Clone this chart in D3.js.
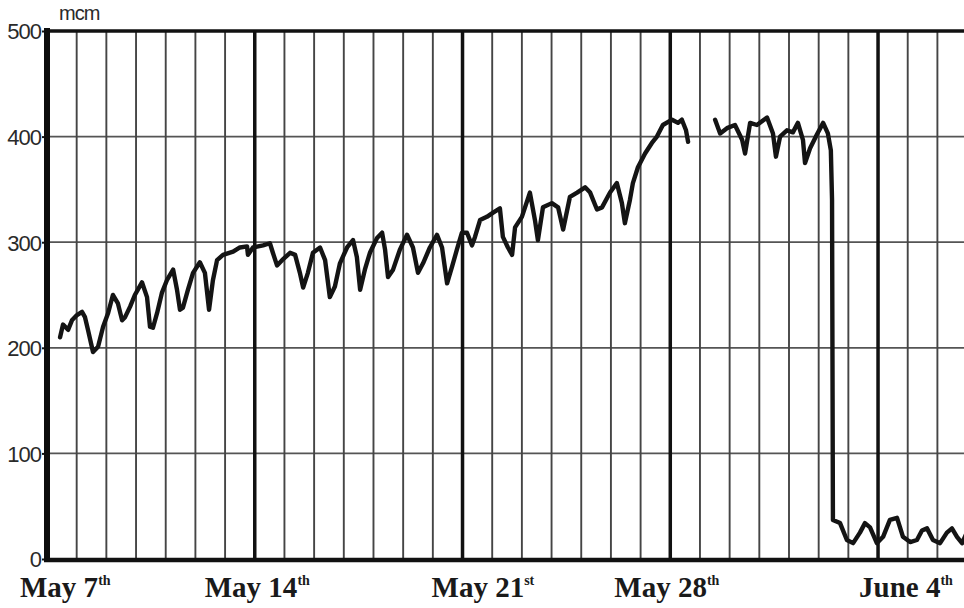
<!DOCTYPE html>
<html>
<head>
<meta charset="utf-8">
<script src="https://cdn.jsdelivr.net/npm/d3@7"></script>
<style>
  html, body { margin: 0; padding: 0; background: #fff; }
  svg { display: block; }
</style>
</head>
<body>
<svg id="chart" width="964" height="608"></svg>
<script>
// ---- data (days after May 7, 00:00; flow in mcm) ----
const seriesDays = [
  0.44,0.54,0.71,0.84,1.01,1.18,1.28,1.38,1.55,1.72,1.89,2.06,2.22,2.39,2.53,2.63,2.80,2.96,3.20,3.37,
  3.47,3.57,3.71,3.87,4.04,4.25,4.38,4.48,4.58,4.75,4.92,5.15,5.32,5.46,5.59,5.73,5.93,6.27,6.50,6.74,
  6.77,6.94,7.28,7.51,7.61,7.75,7.92,8.19,8.36,8.52,8.63,8.79,8.96,9.20,9.37,9.53,9.70,9.87,10.11,10.31,
  10.44,10.55,10.71,10.88,11.12,11.29,11.39,11.49,11.66,11.89,12.13,12.33,12.50,12.67,12.90,13.14,13.31,13.48,13.65,13.81,
  13.98,14.15,14.32,14.42,14.59,14.82,15.03,15.26,15.36,15.53,15.67,15.77,16.00,16.27,16.44,16.54,16.71,17.01,17.22,17.39,
  17.62,17.86,18.13,18.30,18.53,18.70,18.97,19.20,19.37,19.47,19.64,19.74,19.91,20.15,20.38,20.55,20.75,21.06,21.26,21.39,
  21.53,21.60,
  22.05,
  22.51,22.68,22.91,23.18,23.42,23.52,23.69,23.92,24.26,24.46,24.56,24.70,24.93,25.13,25.30,25.47,25.54,25.71,25.94,26.15,
  26.31,26.41,26.45,26.48,26.72,26.95,27.16,27.39,27.56,27.73,27.96,28.17,28.40,28.64,28.84,29.08,29.31,29.48,29.65,29.85,
  30.09,30.32,30.49,30.66,30.83,30.96
];
const seriesFlow = [
  210,222,217,226,231,234,229,217,196,201,220,233,250,242,226,229,239,250,262,248,
  220,219,233,252,264,274,255,236,238,255,271,281,271,236,264,283,288,291,295,296,
  288,295,297,299,290,278,283,290,288,271,257,271,290,295,283,248,258,280,295,302,
  286,255,274,290,304,309,293,267,274,293,307,295,271,280,295,307,295,261,277,293,
  309,309,297,305,321,324,328,332,305,295,288,314,324,347,321,302,333,337,333,312,
  343,347,352,347,331,333,347,356,337,318,340,356,371,384,394,400,411,416,413,416,
  406,395,
  null,
  416,403,408,411,397,384,413,411,418,403,381,400,406,404,413,397,375,389,402,413,
  403,387,340,37,34,18,15,25,34,30,15,21,37,39,21,16,18,27,29,18,
  15,25,29,21,15,23
];

// axis / label content
const yTickValues = [0, 100, 200, 300, 400, 500];
const weekLabels = ["May 7", "May 14", "May 21", "May 28", "June 4"];
const weekSuffix = ["th", "th", "st", "th", "th"];
const weekDays = [0, 7, 14, 21, 28];
const unitLabel = "mcm";

// ---- layout ----
const W = 964, H = 608;
const plotLeft = 47, plotTop = 31, plotBottom = 559;
const pxPerDay = 29.68;
const dayMax = 31;
const labelDx = [-27, -50, -31, -56, -19];

const svg = d3.select("#chart");
svg.append("rect").attr("width", W).attr("height", H).attr("fill", "#fff");

const x = d3.scaleLinear().domain([0, dayMax]).range([plotLeft, plotLeft + pxPerDay * dayMax]);
const y = d3.scaleLinear().domain([0, 500]).range([plotBottom, plotTop]);

// horizontal grid
svg.append("g").selectAll("line")
  .data(yTickValues.filter(v => v > 0 && v < 500))
  .join("line")
  .attr("x1", plotLeft).attr("x2", W)
  .attr("y1", d => y(d)).attr("y2", d => y(d))
  .attr("stroke", "#555").attr("stroke-width", 1.7);

// vertical day grid
const allDays = d3.range(1, dayMax + 1);
svg.append("g").selectAll("line")
  .data(allDays)
  .join("line")
  .attr("x1", d => x(d)).attr("x2", d => x(d))
  .attr("y1", plotTop).attr("y2", plotBottom)
  .attr("stroke", d => d % 7 === 0 ? "#111" : "#454545")
  .attr("stroke-width", d => d % 7 === 0 ? 3.5 : 1.9);

// top border
svg.append("line")
  .attr("x1", plotLeft).attr("x2", W)
  .attr("y1", plotTop).attr("y2", plotTop)
  .attr("stroke", "#111").attr("stroke-width", 3.5);

// data line
const pts = seriesDays.map((d, i) => ({ d, v: seriesFlow[i] }));
const line = d3.line()
  .defined(p => p.v !== null)
  .x(p => x(p.d)).y(p => y(p.v))
  .curve(d3.curveLinear);
svg.append("path")
  .datum(pts)
  .attr("d", line)
  .attr("fill", "none")
  .attr("stroke", "#141414")
  .attr("stroke-width", 4.4)
  .attr("stroke-linejoin", "round")
  .attr("stroke-linecap", "round");

// bottom axis line
svg.append("line")
  .attr("x1", plotLeft - 3).attr("x2", W)
  .attr("y1", plotBottom + 1).attr("y2", plotBottom + 1)
  .attr("stroke", "#111").attr("stroke-width", 4.5);

// left axis
const yAxis = d3.axisLeft(y).tickValues(yTickValues).tickSize(4).tickPadding(1);
const gy = svg.append("g").attr("transform", `translate(${plotLeft - 1},0)`).call(yAxis);
gy.select(".domain").remove();
gy.selectAll(".tick line").attr("stroke", "#111").attr("stroke-width", 2);
gy.selectAll(".tick text")
  .attr("font-family", "'Liberation Sans', Arial, sans-serif")
  .attr("font-size", 22)
  .attr("fill", "#2a2a2a")
  .attr("letter-spacing", -1)
  .attr("dy", "0.36em");
svg.append("line")
  .attr("x1", plotLeft).attr("x2", plotLeft)
  .attr("y1", plotTop - 3).attr("y2", plotBottom + 3)
  .attr("stroke", "#0d0d0d").attr("stroke-width", 6);

// unit label
svg.append("text")
  .attr("x", plotLeft + 12).attr("y", plotTop - 11)
  .attr("font-family", "'Liberation Sans', Arial, sans-serif")
  .attr("font-size", 20)
  .attr("letter-spacing", -1)
  .attr("fill", "#2a2a2a")
  .text(unitLabel);

// x week labels
const xl = svg.append("g");
weekLabels.forEach((lab, i) => {
  const t = xl.append("text")
    .attr("x", x(weekDays[i]) + labelDx[i])
    .attr("y", 597)
    .attr("font-family", "'Liberation Serif', 'Times New Roman', serif")
    .attr("font-weight", "bold")
    .attr("font-size", 29)
    .attr("fill", "#1a1a1a");
  t.append("tspan").text(lab);
  t.append("tspan")
    .attr("font-size", 14)
    .attr("dy", -12)
    .text(weekSuffix[i]);
});
</script>
</body>
</html>
